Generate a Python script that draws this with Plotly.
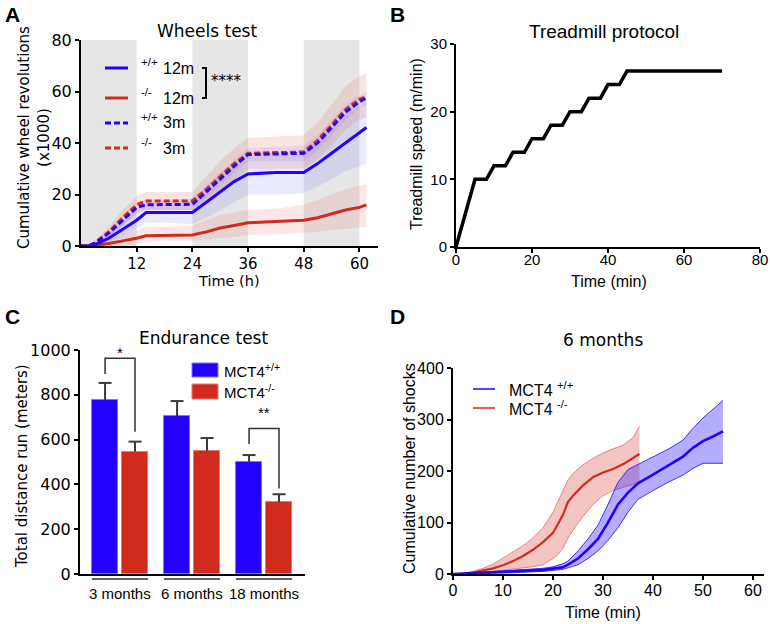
import plotly.graph_objects as go
import numpy as np

W, H = 770, 624
def px(x): return x / W
def py(y): return 1 - y / H

BLUE = "#2400ff"
RED = "#d12a1f"
ARIAL = "Liberation Sans, Arial, sans-serif"
WIDE = "DejaVu Sans, sans-serif"

# ---------------- Panel A data (Wheels test) ----------------
tA = [0, 1.5, 3, 6, 9, 12, 14, 18, 24, 27, 30, 33, 36, 42, 48, 51, 54, 57, 60, 61.5]
wt12 = [0, 0, 0.5, 3, 6.5, 10, 13, 13, 13, 17, 21, 25, 28, 28.5, 28.5, 32, 36, 40, 44, 46]
wt12_lo = [0, 0, 0.2, 1.5, 4, 6.5, 9, 9, 8.5, 11, 14, 17, 20, 20, 20.5, 23, 26, 29, 31, 32]
wt12_hi = [0, 0, 0.8, 4.5, 9, 13.5, 17, 17, 17.5, 23, 28, 32, 36, 36.5, 37, 41, 46, 51, 54, 56]
ko12 = [0, 0, 0.3, 1, 2, 3, 4, 4.2, 4.3, 5.5, 7, 8, 9, 9.5, 10, 11, 12.5, 14, 15, 16]
ko12_lo = [0, 0, 0, 0, 0, 0.5, 1.5, 2, 2, 2.5, 3, 3.5, 4.3, 4.5, 5, 5.5, 6, 6.5, 7, 7.5]
ko12_hi = [0, 0, 0.8, 2.5, 4.5, 6, 7.5, 7.5, 8, 10, 12, 13, 14, 14.5, 16, 18, 20, 22, 23.5, 24]
wt3 = [0, 0, 1, 5, 10, 15, 16, 16, 16.2, 21, 26, 31, 35.5, 35.8, 36, 40, 46, 52, 56, 57.5]
wt3_lo = [0, 0, 0.5, 3.5, 8, 13, 14, 14, 14, 18.5, 23.5, 28.5, 33, 33, 33, 37, 43, 49, 53.5, 55]
wt3_hi = [0, 0, 1.5, 6.5, 12, 17, 18, 18, 18.5, 23.5, 28.5, 33.5, 38, 38.5, 39, 43, 49, 55, 58.5, 60]
ko3 = [0, 0, 1.2, 5.5, 11, 16, 17.5, 17.5, 17.5, 22, 27, 32, 36, 36.2, 36.5, 41, 47, 53, 57, 58]
ko3_lo = [0, 0, 0.5, 3.5, 8, 12.5, 14, 14, 14, 17, 21, 25.5, 30, 30, 30, 34, 39, 45, 49, 50]
ko3_hi = [0, 0, 2, 7.5, 14, 19.5, 21, 21, 21, 27, 33, 38, 42, 42.5, 43, 48, 55, 62, 66, 67]
night_bands = [(0, 12), (24, 36), (48, 60)]

# ---------------- Panel B data (Treadmill protocol) ----------------
tB = [0, 5, 8, 10, 13, 15, 18, 20, 23, 25, 28, 30, 33, 35, 38, 40, 43, 45, 70]
speedB = [0, 10, 10, 12, 12, 14, 14, 16, 16, 18, 18, 20, 20, 22, 22, 24, 24, 26, 26]

# ---------------- Panel C data (Endurance test) ----------------
groupsC = ["3 months", "6 months", "18 months"]
wtC = [777, 705, 499]
wtC_err = [76, 67, 32]
koC = [546, 550, 320]
koC_err = [45, 57, 36]

# ---------------- Panel D data (6 months shocks) ----------------
tD_ko = [0, 2, 4, 6, 8, 10, 12, 14, 16, 18, 20, 21, 22, 23, 24, 26, 28, 30, 32, 34, 36, 37.3]
koD = [0, 0, 3, 7, 11, 17, 25, 35, 47, 62, 80, 97, 115, 140, 152, 172, 188, 197, 204, 213, 225, 233]
koD_hi = [0, 1, 5, 11, 19, 31, 43, 55, 70, 90, 120, 140, 163, 183, 195, 212, 225, 235, 243, 250, 265, 287]
koD_lo = [0, 0, 1, 3, 5, 7, 9, 11, 14, 18, 30, 38, 50, 70, 85, 112, 135, 152, 162, 168, 174, 180]
tD_wt = [0, 3, 6, 10, 14, 18, 20, 22, 23, 25, 27, 29, 31, 33, 35, 37, 40, 43, 46, 48, 50, 52, 54]
wtD = [0, 1, 2, 4, 6, 8, 10, 13, 18, 30, 48, 68, 100, 135, 158, 176, 193, 210, 228, 245, 258, 267, 277]
wtD_hi = [0, 2, 4, 7, 9, 11, 14, 20, 25, 45, 68, 95, 135, 178, 203, 213, 228, 242, 260, 283, 303, 320, 337]
wtD_lo = [0, 0, 1, 2, 3, 5, 7, 9, 12, 18, 30, 45, 65, 90, 120, 145, 162, 178, 192, 205, 215, 215, 215]

fig = go.Figure()

def band(x, lo, hi, fill, xa, ya, edge=None, ew=0):
    fig.add_trace(go.Scatter(x=x, y=hi, mode="lines", xaxis=xa, yaxis=ya,
                             line=dict(width=ew, color=edge or "rgba(0,0,0,0)"),
                             hoverinfo="skip", showlegend=False))
    fig.add_trace(go.Scatter(x=x, y=lo, mode="lines", xaxis=xa, yaxis=ya, fill="tonexty",
                             fillcolor=fill, line=dict(width=ew, color=edge or "rgba(0,0,0,0)"),
                             hoverinfo="skip", showlegend=False))

# Panel A
band(tA, ko12_lo, ko12_hi, "rgba(230,110,100,0.16)", "x", "y")
band(tA, wt12_lo, wt12_hi, "rgba(90,90,255,0.13)", "x", "y")
band(tA, ko3_lo, ko3_hi, "rgba(230,110,100,0.18)", "x", "y")
band(tA, wt3_lo, wt3_hi, "rgba(90,90,255,0.12)", "x", "y")
fig.add_trace(go.Scatter(x=tA, y=ko12, mode="lines", line=dict(color=RED, width=3), xaxis="x", yaxis="y"))
fig.add_trace(go.Scatter(x=tA, y=wt12, mode="lines", line=dict(color=BLUE, width=3), xaxis="x", yaxis="y"))
fig.add_trace(go.Scatter(x=tA, y=ko3, mode="lines", line=dict(color=RED, width=3, dash="6px,3px"), xaxis="x", yaxis="y"))
fig.add_trace(go.Scatter(x=tA, y=wt3, mode="lines", line=dict(color=BLUE, width=3, dash="6px,3px"), xaxis="x", yaxis="y"))

# Panel B
fig.add_trace(go.Scatter(x=tB, y=speedB, mode="lines", line=dict(color="black", width=3.5),
                         xaxis="x2", yaxis="y2"))

# Panel C
xc = np.arange(len(groupsC))
off, bw = 0.208, 0.37
fig.add_trace(go.Bar(x=xc - off, y=wtC, width=bw, marker=dict(color=BLUE, line=dict(color="#7f70ff", width=1)),
                     xaxis="x3", yaxis="y3"))
fig.add_trace(go.Bar(x=xc + off, y=koC, width=bw, marker=dict(color=RED, line=dict(color="#e8796f", width=1)),
                     xaxis="x3", yaxis="y3"))
ex, ey = [], []
cap = 0.09
for xs, vals, errs in [(xc - off, wtC, wtC_err), (xc + off, koC, koC_err)]:
    for x0, v, e in zip(xs, vals, errs):
        ex += [x0, x0, None, x0 - cap, x0 + cap, None]
        ey += [v, v + e, None, v + e, v + e, None]
fig.add_trace(go.Scatter(x=ex, y=ey, mode="lines", line=dict(color="#3a3a3a", width=2),
                         xaxis="x3", yaxis="y3", hoverinfo="skip"))
# significance brackets: group, left-leg start, top, right-leg end, label, label y (px)
sig = [(0, 893, 963, 635, "*", 352), (2, 580, 650, 382, "**", 412)]
bx, by = [], []
for g, yl, ytop, yr, star, ys in sig:
    bx += [g - off, g - off, g + off, g + off, None]
    by += [yl, ytop, ytop, yr, None]
fig.add_trace(go.Scatter(x=bx, y=by, mode="lines", line=dict(color="#333333", width=1.5),
                         xaxis="x3", yaxis="y3", hoverinfo="skip", cliponaxis=False))

# Panel D
band(tD_ko, koD_lo, koD_hi, "rgba(220,90,80,0.35)", "x4", "y4", "rgba(215,60,50,0.55)", 1)
band(tD_wt, wtD_lo, wtD_hi, "rgba(60,40,255,0.38)", "x4", "y4", "rgba(40,20,255,0.85)", 1)
fig.add_trace(go.Scatter(x=tD_ko, y=koD, mode="lines", line=dict(color=RED, width=2.2), xaxis="x4", yaxis="y4"))
fig.add_trace(go.Scatter(x=tD_wt, y=wtD, mode="lines", line=dict(color=BLUE, width=2.6), xaxis="x4", yaxis="y4"))

axis_common = dict(showgrid=False, zeroline=False, showline=True, linecolor="black", linewidth=2,
                   ticks="outside", ticklen=4, tickwidth=2, tickcolor="black", automargin=False)

fig.update_layout(
    width=W, height=H, margin=dict(l=0, r=0, t=0, b=0, autoexpand=False),
    paper_bgcolor="white", plot_bgcolor="rgba(0,0,0,0)", showlegend=False,
    bargap=0,
    xaxis=dict(domain=[px(81), px(378)], range=[0, 64], tickvals=[12, 24, 36, 48, 60], anchor="y",
               tickfont=dict(family=WIDE, size=15, color="black"), ticklabelstandoff=-1, **axis_common),
    yaxis=dict(domain=[py(246), py(40)], range=[0, 80], dtick=20, anchor="x",
               tickfont=dict(family=WIDE, size=16, color="black"), **axis_common),
    xaxis2=dict(domain=[px(456), px(760)], range=[0, 80], dtick=20, anchor="y2",
                tickfont=dict(family=ARIAL, size=15, color="black"), ticklabelstandoff=-6, **axis_common),
    yaxis2=dict(domain=[py(247), py(44)], range=[0, 30], dtick=10, anchor="x2",
                tickfont=dict(family=ARIAL, size=15, color="black"), **axis_common),
    xaxis3=dict(domain=[px(80), px(305)], range=[-0.556, 2.569], anchor="y3", showticklabels=False,
                showgrid=False, zeroline=False, showline=True, linecolor="black", linewidth=2, ticks="",
                automargin=False),
    yaxis3=dict(domain=[py(574), py(350)], range=[0, 1000], dtick=200, anchor="x3",
                tickfont=dict(family=WIDE, size=16, color="black"), **axis_common),
    xaxis4=dict(domain=[px(453), px(764)], range=[0, 62.2], dtick=10, anchor="y4",
                tickfont=dict(family=ARIAL, size=16, color="black"), ticklabelstandoff=-3, **axis_common),
    yaxis4=dict(domain=[py(574), py(368)], range=[0, 400], dtick=100, anchor="x4",
                tickfont=dict(family=ARIAL, size=16, color="black"), **axis_common),
)

shapes = []
for a, b in night_bands:
    shapes.append(dict(type="rect", xref="x", yref="y domain", x0=a, x1=b, y0=0, y1=1,
                       fillcolor="#e6e6e6", line=dict(width=0), layer="below"))
# group underlines in C
for g in xc:
    shapes.append(dict(type="line", xref="x3", yref="paper", x0=g - 0.39, x1=g + 0.39,
                       y0=py(579), y1=py(579), line=dict(color="#333333", width=1.3)))
# Legend A samples
legA = [(68, BLUE, "solid"), (98, RED, "solid"), (123, BLUE, "6px,3px"), (148, RED, "6px,3px")]
for yy, col, d in legA:
    shapes.append(dict(type="line", xref="paper", yref="paper", x0=px(105), x1=px(128),
                       y0=py(yy), y1=py(yy), line=dict(color=col, width=3, dash=d)))
# bracket in A
shapes.append(dict(type="path", xref="paper", yref="paper",
                   path=f"M {px(202)} {py(68)} L {px(206)} {py(68)} L {px(206)} {py(98)} L {px(202)} {py(98)}",
                   line=dict(color="black", width=2)))
# Legend C boxes
for y0, y1, col, lc in [(363, 377, BLUE, "#7f70ff"), (384, 399, RED, "#e8796f")]:
    shapes.append(dict(type="rect", xref="paper", yref="paper", x0=px(192), x1=px(218),
                       y0=py(y1), y1=py(y0), fillcolor=col, line=dict(color=lc, width=1)))
# Legend D samples
for yy, col in [(389, BLUE), (408, RED)]:
    shapes.append(dict(type="line", xref="paper", yref="paper", x0=px(473), x1=px(495),
                       y0=py(yy), y1=py(yy), line=dict(color=col, width=1.5)))
fig.update_layout(shapes=shapes)

ann = []
def T(x, y, text, size, family=ARIAL, angle=0, xanchor="center", bold=False):
    if bold:
        text = f"<b>{text}</b>"
    ann.append(dict(x=px(x), y=py(y), xref="paper", yref="paper", text=text, showarrow=False,
                    textangle=angle, xanchor=xanchor, yanchor="middle",
                    font=dict(family=family, size=size, color="black")))

# panel letters
T(13, 14, "A", 21, ARIAL, bold=True)
T(397, 14, "B", 21, ARIAL, bold=True)
T(13, 316, "C", 21, ARIAL, bold=True)
T(397, 316, "D", 21, ARIAL, bold=True)

# titles
T(207, 31, "Wheels test", 17, WIDE)
T(604, 31, "Treadmill protocol", 19, ARIAL)
T(204, 338, "Endurance test", 17, WIDE)
T(603, 340, "6 months", 17, WIDE)

# axis titles
T(34, 138, "Cumulative wheel revolutions<br>(x1000)", 15, WIDE, angle=-90)
T(229, 281, "Time (h)", 14.5, WIDE)
T(416, 144, "Treadmill speed (m/min)", 16, ARIAL, angle=-90)
T(609, 281, "Time (min)", 16, ARIAL)
T(22, 466, "Total distance run (meters)", 15, WIDE, angle=-90)
T(409, 469, "Cumulative number of shocks", 16, ARIAL, angle=-90)
T(603, 612, "Time (min)", 16, ARIAL)

# legend A texts
for yy, sup, lab in [(68, "+/+", "12m"), (98, "-/-", "12m"), (123, "+/+", "3m"), (148, "-/-", "3m")]:
    T(139, yy - 6, sup, 11.5, ARIAL, xanchor="left")
    T(161, yy, lab, 16, ARIAL, xanchor="left")
T(209, 81, "****", 15, WIDE, xanchor="left")

# Panel C texts
for g, lab in zip(xc, groupsC):
    ann.append(dict(x=g, y=py(593), xref="x3", yref="paper", text=lab, showarrow=False,
                    xanchor="center", yanchor="middle", font=dict(family=ARIAL, size=15, color="black")))
for g, yl, ytop, yr, star, ys in sig:
    ann.append(dict(x=g, y=py(ys), xref="x3", yref="paper", text=star, showarrow=False,
                    xanchor="center", yanchor="middle", font=dict(family=ARIAL, size=15, color="black")))
T(222, 370, "MCT4<sup>+/+</sup>", 15, ARIAL, xanchor="left")
T(222, 391, "MCT4<sup>-/-</sup>", 15, ARIAL, xanchor="left")

# Legend D texts
T(507, 389, "MCT4 <sup>+/+</sup>", 16, ARIAL, xanchor="left")
T(507, 408, "MCT4 <sup>-/-</sup>", 16, ARIAL, xanchor="left")

fig.update_layout(annotations=ann)
fig.write_html("out.html", config={"displayModeBar": False},
               post_script="document.body.style.margin='0';document.body.style.overflow='hidden';")
